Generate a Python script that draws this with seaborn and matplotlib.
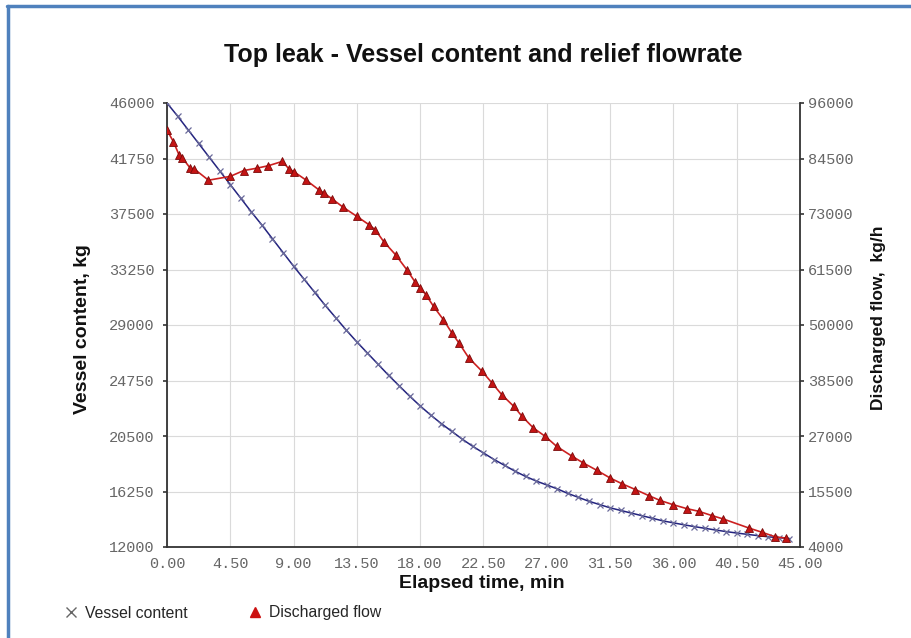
import matplotlib
matplotlib.use("Agg")
import matplotlib.pyplot as plt
from matplotlib.lines import Line2D
import seaborn as sns
import pandas as pd
import numpy as np

# ---- data ----
vessel_time = [0, 0.75, 1.5, 2.25, 3.0, 3.75, 4.5, 5.25, 6.0, 6.75, 7.5, 8.25, 9.0, 9.75,
               10.5, 11.25, 12.0, 12.75, 13.5, 14.25, 15.0, 15.75, 16.5, 17.25, 18.0, 18.75,
               19.5, 20.25, 21.0, 21.75, 22.5, 23.25, 24.0, 24.75, 25.5, 26.25, 27.0, 27.75,
               28.5, 29.25, 30.0, 30.75, 31.5, 32.25, 33.0, 33.75, 34.5, 35.25, 36.0, 36.75,
               37.5, 38.25, 39.0, 39.75, 40.5, 41.25, 42.0, 42.75, 43.5, 44.25]
vessel_content = [46000, 45000, 43950, 42900, 41850, 40800, 39750, 38700, 37650, 36650,
                  35600, 34550, 33500, 32500, 31500, 30500, 29550, 28600, 27700, 26850,
                  26000, 25150, 24350, 23550, 22800, 22100, 21450, 20850, 20250, 19700,
                  19200, 18700, 18250, 17800, 17400, 17050, 16750, 16450, 16100, 15800,
                  15500, 15250, 15000, 14800, 14600, 14400, 14200, 14000, 13850, 13700,
                  13560, 13430, 13300, 13180, 13070, 12970, 12870, 12780, 12710, 12650]

flow_time = [0.0, 0.45, 0.85, 1.1, 1.65, 1.95, 2.95, 4.5, 5.45, 6.4, 7.2, 8.2, 8.65, 9.0,
             9.85, 10.8, 11.15, 11.75, 12.5, 13.5, 14.35, 14.8, 15.4, 16.25, 17.05, 17.65,
             18.0, 18.4, 18.95, 19.65, 20.25, 20.75, 21.45, 22.4, 23.1, 23.8, 24.65, 25.25,
             26.05, 26.9, 27.7, 28.8, 29.6, 30.55, 31.5, 32.35, 33.3, 34.25, 35.05, 36.0,
             36.95, 37.8, 38.75, 39.55, 41.35, 42.3, 43.25, 44.0]
flow_rate = [90400, 88000, 85300, 84600, 82500, 82300, 80000, 80800, 82000, 82500, 83000,
             83900, 82400, 81800, 80100, 78000, 77350, 76100, 74450, 72500, 70800, 69750,
             67300, 64550, 61450, 58850, 57650, 56300, 53850, 51100, 48350, 46300, 43200,
             40400, 38000, 35550, 33150, 31050, 28650, 26900, 24850, 22800, 21400, 19900,
             18300, 17100, 15900, 14650, 13650, 12750, 11950, 11400, 10500, 9800, 7950,
             7050, 6100, 5850]

x_ticks = [0, 4.5, 9, 13.5, 18, 22.5, 27, 31.5, 36, 40.5, 45]
left_ticks = [12000, 16250, 20500, 24750, 29000, 33250, 37500, 41750, 46000]
right_ticks = [4000, 15500, 27000, 38500, 50000, 61500, 73000, 84500, 96000]

title = "Top leak - Vessel content and relief flowrate"
xlabel = "Elapsed time, min"
ylabel_left = "Vessel content, kg"
ylabel_right = "Discharged flow,  kg/h"
legend_labels = ["Vessel content", "Discharged flow"]

# ---- plot ----
sns.set_style("white")
plt.rcParams["font.family"] = ["Liberation Sans", "DejaVu Sans"]

fig = plt.figure(figsize=(9.12, 6.38), dpi=100)
ax = fig.add_axes([167 / 912, 1 - 547 / 638, (800 - 167) / 912, (547 - 103) / 638])
ax2 = ax.twinx()

df_v = pd.DataFrame({"t": vessel_time, "v": vessel_content})
df_f = pd.DataFrame({"t": flow_time, "v": flow_rate})

blue = "#23237F"
red = "#CC2020"
sns.lineplot(data=df_v, x="t", y="v", ax=ax, color=blue, lw=1.1, marker="x",
             markersize=5, markeredgecolor="#6A6A9A", markeredgewidth=0.9, zorder=3)
sns.lineplot(data=df_f, x="t", y="v", ax=ax2, color=red, lw=1.2, marker="^",
             markersize=6.3, markerfacecolor="#C41414", markeredgecolor="#7A0A0A",
             markeredgewidth=0.6, zorder=3)

ax.set_xlim(0, 45)
ax.set_ylim(12000, 46000)
ax2.set_ylim(4000, 96000)
ax.set_xticks(x_ticks)
ax.set_xticklabels([f"{v:.2f}" for v in x_ticks])
ax.set_yticks(left_ticks)
ax.set_yticklabels([str(v) for v in left_ticks])
ax2.set_yticks(right_ticks)
ax2.set_yticklabels([str(v) for v in right_ticks])

ax.grid(True, color="#DADADA", lw=0.8)
ax.set_axisbelow(True)

for a in (ax, ax2):
    a.spines["top"].set_visible(False)
    for s in ("left", "right", "bottom"):
        a.spines[s].set_color("#333333")
        a.spines[s].set_linewidth(1.3)
ax.spines["right"].set_visible(False)
ax2.spines["left"].set_visible(False)
ax2.spines["bottom"].set_visible(False)

mono = ["Liberation Mono", "DejaVu Sans Mono"]
tick_kw = dict(direction="out", length=3, width=1.2, color="#333333",
               labelsize=11, labelcolor="#666666")
ax.tick_params(axis="y", pad=6, **tick_kw)
ax.tick_params(axis="x", pad=4, **tick_kw)
ax2.tick_params(axis="y", pad=2.5, **tick_kw)
for lab in ax.get_xticklabels() + ax.get_yticklabels() + ax2.get_yticklabels():
    lab.set_family(mono)

lab_kw = dict(fontweight="bold", color="#111111")
ax.set_xlabel(xlabel, fontsize=14, **lab_kw)
ax.set_ylabel(ylabel_left, fontsize=14, **lab_kw)
ax2.set_ylabel(ylabel_right, fontsize=12.5, **lab_kw)
ax.xaxis.label.set_va("center")
ax.xaxis.set_label_coords(0.497, (547 - 583) / 444)
ax.yaxis.label.set_va("center")
ax.yaxis.set_label_coords((83 - 167) / 633, 0.49)
ax2.yaxis.label.set_va("center")
ax2.yaxis.set_label_coords((879 - 167) / 633, 0.516)

fig.text(483 / 912, 1 - 55 / 638, title, ha="center", va="center",
         fontsize=18, fontweight="bold", color="#111111")

handles = [
    Line2D([], [], ls="none", marker="x", color="#666666", markersize=7, markeredgewidth=1),
    Line2D([], [], ls="none", marker="^", color="#CC1111", markersize=7),
]
fig.legend(handles, legend_labels, loc="center left",
           bbox_to_anchor=(49 / 912, 1 - 613 / 638), ncol=2, frameon=False,
           fontsize=11.3, handlelength=1.0, handletextpad=0.4, columnspacing=3.8)

# blue frame (top and left edges)
border = "#4F81BD"
fig.add_artist(Line2D([8.5 / 912, 8.5 / 912], [0, 1 - 6 / 638], color=border, lw=2.5,
                      transform=fig.transFigure))
fig.add_artist(Line2D([7.3 / 912, 1], [1 - 6 / 638, 1 - 6 / 638], color=border, lw=2.5,
                      transform=fig.transFigure))

fig.savefig("out.png", dpi=100)
